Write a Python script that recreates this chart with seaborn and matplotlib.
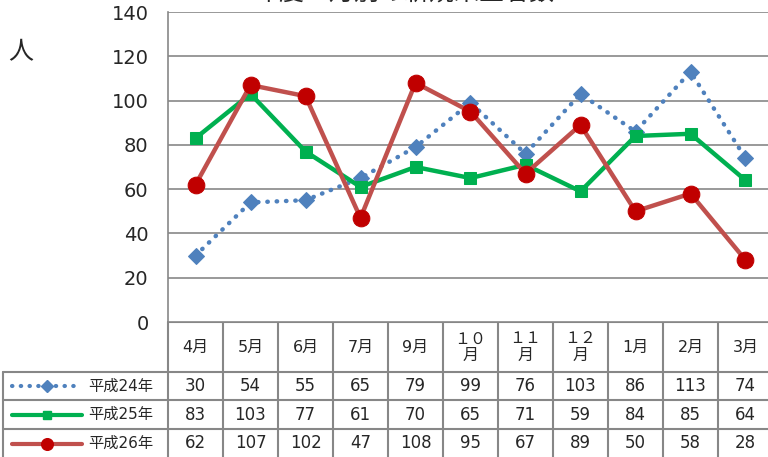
import numpy as np
import pandas as pd
import matplotlib.pyplot as plt
import seaborn as sns

months = ["4月", "5月", "6月", "7月", "9月", "１０\n月", "１１\n月", "１２\n月", "1月", "2月", "3月"]
series_names = ["平成24年", "平成25年", "平成26年"]
h24 = [30, 54, 55, 65, 79, 99, 76, 103, 86, 113, 74]
h25 = [83, 103, 77, 61, 70, 65, 71, 59, 84, 85, 64]
h26 = [62, 107, 102, 47, 108, 95, 67, 89, 50, 58, 28]
yticks = list(range(0, 141, 20))
title = "年度・月別の新規来室者数"

styles = {
    "平成24年": dict(color="#4F81BD", linestyle=(0, (0.1, 2.0)), dash_capstyle="round",
                   marker="D", markersize=8.5, mfc="#4F81BD", mec="#4F81BD"),
    "平成25年": dict(color="#00B050", linestyle="-", marker="s", markersize=8.5,
                   mfc="#00B050", mec="#00B050"),
    "平成26年": dict(color="#C0504D", linestyle="-", marker="o", markersize=12,
                   mfc="#C00000", mec="#C00000"),
}

df = pd.DataFrame({"month": months * 3,
                   "series": np.repeat(series_names, len(months)),
                   "value": h24 + h25 + h26})

sns.set_style("white")
plt.rcParams["font.family"] = ["Noto Sans CJK JP", "DejaVu Sans"]
mixed = ["DejaVu Sans", "Noto Sans CJK JP"]  # wide digits, CJK fallback

W, H = 768, 457
fig = plt.figure(figsize=(W / 100, H / 100), dpi=100)

# layout in pixels
x0, cw = 168, 55.0
y_top, y_bot = 12, 322
ax = fig.add_axes([x0 / W, (H - y_bot) / H, cw * len(months) / W, (y_bot - y_top) / H])

grid_c = "#878787"
for name in series_names:
    sub = df[df["series"] == name]
    sns.lineplot(data=sub, x="month", y="value", ax=ax, sort=False, lw=3.2,
                 legend=False, **styles[name])

ax.set_xlim(-0.5, len(months) - 0.5)
ax.set_ylim(0, 140)
ax.set_yticks(yticks)
ax.set_yticklabels([str(t) for t in yticks], fontsize=14, family=mixed)
ax.tick_params(axis="y", length=0, pad=14)
ax.set_xticks([])
ax.set_xlabel("")
ax.set_ylabel("")
ax.yaxis.grid(True, color=grid_c, lw=1.2)
for s in ["top", "right", "bottom"]:
    ax.spines[s].set_visible(False)
ax.spines["left"].set_color(grid_c)
ax.spines["left"].set_linewidth(1.2)
ax.set_axisbelow(True)

fig.text(8 / W, 1 - 52 / H, "人", fontsize=18, ha="left", va="center")
fig.text(405 / W, 1 + 7 / H, title, fontsize=18, ha="center", va="center")

# data table under the chart
tab = fig.add_axes([0, 0, 1, 1], zorder=-1)
tab.set_xlim(0, W)
tab.set_ylim(H, 0)
tab.axis("off")
x_end = x0 + cw * len(months)
rows = [372, 400, 429, 458]
lk = dict(color=grid_c, lw=1.5)
tab.plot([x0, x_end], [y_bot, y_bot], **lk)
for r in rows[:-1]:
    tab.plot([3, x_end], [r, r], **lk)
for i in range(len(months) + 1):
    tab.plot([x0 + i * cw] * 2, [y_bot, H], **lk)
tab.plot([3, 3], [rows[0], H], **lk)

for i, m in enumerate(months):
    cx = x0 + (i + 0.5) * cw
    tab.text(cx, 347, m, ha="center", va="center", fontsize=11.5, linespacing=1.1,
             family=mixed)

for j, (name, vals) in enumerate(zip(series_names, [h24, h25, h26])):
    cy = (rows[j] + rows[j + 1]) / 2
    st = styles[name]
    tab.plot([12, 82], [cy, cy], color=st["color"], linestyle=st["linestyle"],
             dash_capstyle=st.get("dash_capstyle", "butt"), lw=3)
    tab.plot([47], [cy], marker=st["marker"], markersize=st["markersize"] * 0.7,
             mfc=st["mfc"], mec=st["mec"], linestyle="none")
    tab.text(88, cy, name, ha="left", va="center", fontsize=11, family=mixed)
    for i, v in enumerate(vals):
        tab.text(x0 + (i + 0.5) * cw, cy, str(v), ha="center", va="center",
                 fontsize=12, family=mixed)

fig.savefig("out.png", dpi=100)
